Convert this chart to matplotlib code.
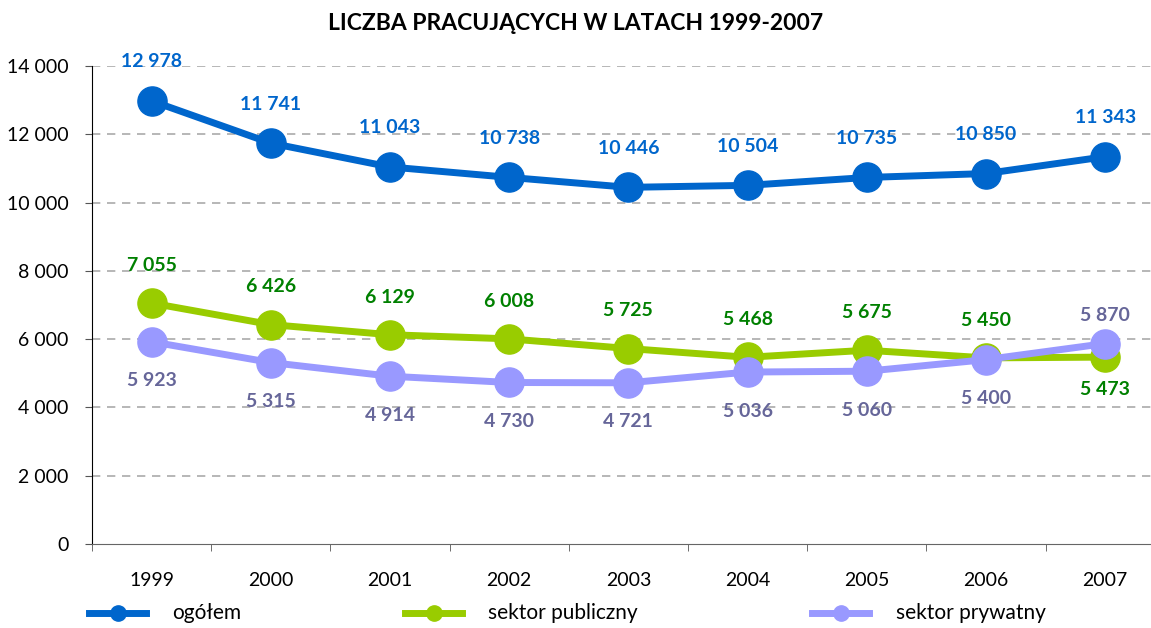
import matplotlib

matplotlib.use("Agg")
import matplotlib.pyplot as plt
from matplotlib.lines import Line2D

plt.rcParams["font.family"] = ["Lato", "DejaVu Sans"]

years = ["1999", "2000", "2001", "2002", "2003", "2004", "2005", "2006", "2007"]
ogolem = [12978, 11741, 11043, 10738, 10446, 10504, 10735, 10850, 11343]
publiczny = [7055, 6426, 6129, 6008, 5725, 5468, 5675, 5450, 5473]
prywatny = [5923, 5315, 4914, 4730, 4721, 5036, 5060, 5400, 5870]

c_ogolem = "#0066CC"
c_pub = "#99CC00"
c_pub_txt = "#008000"
c_pryw = "#9999FF"
c_pryw_txt = "#666699"


def fmt(v):
    return f"{v:,}".replace(",", " ")


fig = plt.figure(figsize=(11.51, 6.28), dpi=100)
ax = fig.add_axes([0.0799, 0.1338, 0.932, 0.7611])
x = list(range(len(years)))

ax.plot(x, publiczny, color=c_pub, lw=5, marker="o", ms=21, zorder=3)
ax.plot(x, prywatny, color=c_pryw, lw=5, marker="o", ms=21, zorder=4)
ax.plot(x, ogolem, color=c_ogolem, lw=5, marker="o", ms=21, zorder=3)

lab = dict(ha="center", fontsize=14, fontweight="bold", textcoords="offset points")
for i in x:
    ax.annotate(fmt(ogolem[i]), (i, ogolem[i]), xytext=(0, 22), va="bottom", color=c_ogolem, **lab)
    last = i == len(x) - 1
    ax.annotate(fmt(publiczny[i]), (i, publiczny[i]), xytext=(0, -17 if last else 21),
                va="top" if last else "bottom", color=c_pub_txt, **lab)
    ax.annotate(fmt(prywatny[i]), (i, prywatny[i]), xytext=(0, 14 if last else -22),
                va="bottom" if last else "top", color=c_pryw_txt, **lab)

ax.set_xlim(-0.5, len(years) - 0.5)
ax.set_ylim(0, 14000)
ax.set_yticks(range(0, 14001, 2000))
ax.set_yticklabels([fmt(v) for v in range(0, 14001, 2000)], fontsize=14)
ax.set_xticks(x)
ax.set_xticklabels(years, fontsize=14)
ax.tick_params(axis="x", length=0, pad=20)
ax.set_xticks([i - 0.5 for i in range(len(years) + 1)], minor=True)
ax.tick_params(axis="x", which="minor", length=5, direction="out", color="#555555")
ax.tick_params(axis="y", length=5, direction="out", color="#555555", pad=12)

for y in range(2000, 14001, 2000):
    ax.axhline(y, color="#AAAAAA", lw=1.2, ls=(0, (5, 4)), zorder=0)

for s in ["top", "right"]:
    ax.spines[s].set_visible(False)
ax.spines["left"].set_color("black")
ax.spines["bottom"].set_color("#666666")

fig.text(0.5, 0.962, "LICZBA PRACUJĄCYCH W LATACH 1999-2007", ha="center", va="center",
         fontsize=16.5, fontweight="bold")

# legend drawn along the bottom edge: (label, colour, handle start px, text start px)
entries = [("ogółem", c_ogolem, 89, 172), ("sektor publiczny", c_pub, 405, 488),
           ("sektor prywatny", c_pryw, 812, 896)]
W, H = 1151, 628
ly = 1 - 613 / H
for name, col, hx, tx in entries:
    x0, x1 = hx / W, (hx + 57) / W
    fig.add_artist(Line2D([x0, x1], [ly, ly], color=col, lw=5, transform=fig.transFigure))
    fig.add_artist(Line2D([(x0 + x1) / 2], [ly], color=col, marker="o", ms=11,
                          transform=fig.transFigure))
    fig.text(tx / W, ly, name, va="center", ha="left", fontsize=15)

fig.savefig("out.png", dpi=100)
